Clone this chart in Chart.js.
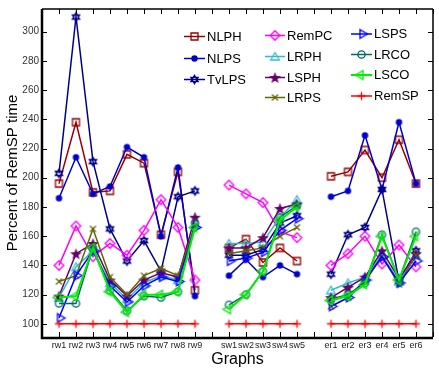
<!DOCTYPE html>
<html>
<head>
<meta charset="utf-8">
<script src="https://cdn.jsdelivr.net/npm/chart.js"></script>
<style>
  html, body { margin: 0; padding: 0; background: #fff; }
  #wrap { width: 439px; height: 369px; }
</style>
</head>
<body>
<div id="wrap"><canvas id="chart"></canvas></div>
<script>
// graph groups, blank slots separate them on the axis
const rwGraphs = ['rw1', 'rw2', 'rw3', 'rw4', 'rw5', 'rw6', 'rw7', 'rw8', 'rw9'];
const swGraphs = ['sw1', 'sw2', 'sw3', 'sw4', 'sw5'];
const erGraphs = ['er1', 'er2', 'er3', 'er4', 'er5', 'er6'];
const yTicks = [100, 120, 140, 160, 180, 200, 220, 240, 260, 280, 300];

// percent of RemSP time, per series: rw1..rw9, sw1..sw5, er1..er6
const NLPH  = [196, 238, 190, 191, 216, 210, 161, 204, 123,  152, 158, 142, 152, 143,  201, 204, 219, 200, 226, 196];
const NLPS  = [186, 214, 189, 194, 221, 214, 160, 207, 119,  133, 144, 132, 140, 134,  187, 191, 229, 192, 238, 196];
const TvLPS = [203, 310, 211, 165, 143, 157, 136, 187, 191,  147, 147, 151, 169, 174,  134, 161, 166, 192, 129, 150];
const RemPC = [140, 167, 146, 155, 147, 164, 185, 166, 130,  195, 189, 183, 163, 159,  140, 148, 160, 141, 154, 139];
const LRPH  = [118, 139, 150, 128, 117, 128, 133, 130, 168,  155, 155, 156, 173, 185,  123, 128, 132, 147, 129, 147];
const LSPH  = [119, 148, 155, 130, 119, 130, 135, 132, 173,  152, 152, 159, 179, 182,  118, 125, 132, 150, 131, 148];
const LRPS  = [129, 133, 165, 132, 120, 133, 138, 133, 167,  148, 150, 152, 160, 166,  112, 118, 129, 146, 127, 147];
const LSPS  = [104, 133, 150, 126, 115, 126, 132, 129, 166,  143, 145, 149, 164, 172,  112, 118, 130, 146, 128, 143];
const LRCO  = [114, 114, 152, 123, 109, 119, 118, 122, 169,  113, 120, 136, 173, 181,  117, 120, 128, 161, 130, 163];
const LSCO  = [118, 119, 152, 122, 108, 120, 120, 122, 166,  110, 120, 136, 171, 180,  116, 119, 127, 160, 130, 160];
const RemSP = [100, 100, 100, 100, 100, 100, 100, 100, 100,  100, 100, 100, 100, 100,  100, 100, 100, 100, 100, 100];

// axis slots: leading blank, groups with a blank between, trailing blank
const labels = ['', ...rwGraphs, '', ...swGraphs, '', ...erGraphs, ''];

function toSlots(vals) {
    const out = [];
    let k = 0;
    labels.forEach(l => { out.push(l === '' ? null : vals[k++]); });
    return out;
}

// --- markers drawn on small canvases (MATLAB-like shapes) ---
function poly(g, cx, cy, r, n, startDeg) {
    for (let i = 0; i < n; i++) {
        const a = (startDeg + i * 360 / n) * Math.PI / 180;
        const x = cx + r * Math.cos(a), y = cy + r * Math.sin(a);
        i === 0 ? g.moveTo(x, y) : g.lineTo(x, y);
    }
    g.closePath();
}

function makeMarker(kind, color) {
    const c = document.createElement('canvas');
    c.width = 15; c.height = 15;
    const g = c.getContext('2d');
    const m = 7.5;
    g.strokeStyle = color; g.fillStyle = color; g.lineWidth = 1.3;
    g.beginPath();
    if (kind === 'square') { g.rect(m - 3.5, m - 3.5, 7, 7); g.stroke(); }
    else if (kind === 'dot') { g.arc(m, m, 3.2, 0, Math.PI * 2); g.fill(); }
    else if (kind === 'hexagram') { poly(g, m, m, 4.2, 3, -90); poly(g, m, m, 4.2, 3, 90); g.stroke(); }
    else if (kind === 'diamond') { poly(g, m, m, 4.8, 4, -90); g.stroke(); }
    else if (kind === 'up') { poly(g, m, m + 1, 5, 3, -90); g.stroke(); }
    else if (kind === 'right') { poly(g, m + 1, m, 5, 3, 0); g.stroke(); }
    else if (kind === 'left') { poly(g, m - 1, m, 5, 3, 180); g.stroke(); }
    else if (kind === 'circle') { g.arc(m, m, 3.6, 0, Math.PI * 2); g.stroke(); }
    else if (kind === 'pentagram') {
        for (let i = 0; i < 10; i++) {
            const r = i % 2 ? 2.6 : 6.2;
            const a = (-90 + i * 36) * Math.PI / 180;
            const x = m + r * Math.cos(a), y = m + 0.6 + r * Math.sin(a);
            i === 0 ? g.moveTo(x, y) : g.lineTo(x, y);
        }
        g.closePath(); g.fill();
    }
    else if (kind === 'x') {
        g.moveTo(m - 3, m - 3); g.lineTo(m + 3, m + 3);
        g.moveTo(m + 3, m - 3); g.lineTo(m - 3, m + 3); g.stroke();
    }
    else if (kind === 'plus') {
        g.moveTo(m - 4, m); g.lineTo(m + 4, m);
        g.moveTo(m, m - 4); g.lineTo(m, m + 4); g.stroke();
    }
    return c;
}

const seriesDefs = [
    { label: 'NLPH',  data: NLPH,  color: '#990000', marker: 'square',    width: 1.5 },
    { label: 'NLPS',  data: NLPS,  color: '#0000cc', marker: 'dot',       width: 1.5 },
    { label: 'TvLPS', data: TvLPS, color: '#000088', marker: 'hexagram',  width: 1.5 },
    { label: 'RemPC', data: RemPC, color: '#ff00ff', marker: 'diamond',   width: 1.5 },
    { label: 'LRPH',  data: LRPH,  color: '#33bbcc', marker: 'up',        width: 1.5 },
    { label: 'LSPH',  data: LSPH,  color: '#660066', marker: 'pentagram', width: 1.5 },
    { label: 'LRPS',  data: LRPS,  color: '#666600', marker: 'x',         width: 1.5 },
    { label: 'LSPS',  data: LSPS,  color: '#0000ff', marker: 'right',     width: 1.5 },
    { label: 'LRCO',  data: LRCO,  color: '#006666', marker: 'circle',    width: 1.5 },
    { label: 'LSCO',  data: LSCO,  color: '#00ee00', marker: 'left',      width: 2 },
    { label: 'RemSP', data: RemSP, color: '#ff0000', marker: 'plus',      width: 1.5 }
];

const datasets = seriesDefs.map((s, i) => {
    const img = makeMarker(s.marker, s.color);
    s.img = img;
    return {
        label: s.label,
        data: toSlots(s.data),
        borderColor: s.color,
        backgroundColor: s.color,
        borderWidth: s.width,
        pointStyle: img,
        pointRadius: 4,
        tension: 0,
        spanGaps: false,
        order: seriesDefs.length - i   // later series on top, like MATLAB
    };
});

// legend layout: [x line start, x line end, text x, y]
const legendPos = {
    NLPH:  [184, 205, 207, 36.5], NLPS:  [184, 205, 207, 58.5], TvLPS: [184, 205, 207, 79.5],
    RemPC: [265, 285, 287, 35.5], LRPH:  [265, 285, 287, 56.5], LSPH:  [265, 285, 287, 77.5], LRPS: [265, 285, 287, 97.5],
    LSPS:  [351, 372, 374, 34],   LRCO:  [351, 372, 374, 54.5], LSCO:  [351, 372, 374, 75],   RemSP: [351, 372, 374, 96]
};

const boxPlugin = {
    id: 'box',
    afterDraw(chart) {
        const { ctx, chartArea: a, scales } = chart;
        ctx.save();
        ctx.strokeStyle = '#000';
        // inward tick marks
        ctx.lineWidth = 1;
        ctx.beginPath();
        labels.forEach((l, i) => {
            const x = Math.round(scales.x.getPixelForValue(i)) + 0.5;
            ctx.moveTo(x, a.top); ctx.lineTo(x, a.top + 5);
            ctx.moveTo(x, a.bottom); ctx.lineTo(x, a.bottom - 5);
        });
        yTicks.forEach(v => {
            const y = Math.round(scales.y.getPixelForValue(v)) + 0.5;
            ctx.moveTo(a.left, y); ctx.lineTo(a.left + 5, y);
            ctx.moveTo(a.right, y); ctx.lineTo(a.right - 5, y);
        });
        ctx.stroke();
        // box
        ctx.lineWidth = 1.5;
        ctx.beginPath();
        ctx.moveTo(a.left, a.top); ctx.lineTo(a.right, a.top);
        ctx.moveTo(a.right, a.top); ctx.lineTo(a.right, a.bottom);
        ctx.stroke();
        ctx.lineWidth = 2.5;
        ctx.beginPath();
        ctx.moveTo(a.left, a.top); ctx.lineTo(a.left, a.bottom + 1);
        ctx.lineTo(a.right, a.bottom + 1);
        ctx.stroke();

        // legend
        ctx.font = '13px "Liberation Sans", Arial, sans-serif';
        ctx.textBaseline = 'middle';
        ctx.fillStyle = '#000';
        seriesDefs.forEach(s => {
            const p = legendPos[s.label];
            ctx.strokeStyle = s.color;
            ctx.lineWidth = s.width;
            ctx.beginPath();
            ctx.moveTo(p[0], p[3]); ctx.lineTo(p[1], p[3]);
            ctx.stroke();
            ctx.drawImage(s.img, (p[0] + p[1]) / 2 - 7.5, p[3] - 7.5);
            ctx.fillText(s.label, p[2], p[3] + 0.5);
        });
        ctx.restore();
    }
};

new Chart(document.getElementById('chart'), {
    type: 'line',
    data: { labels: labels, datasets: datasets },
    options: {
        responsive: true,
        maintainAspectRatio: false,
        animation: false,
        layout: { padding: { top: 4, right: -4, left: 0, bottom: 0 } },
        plugins: { legend: { display: false }, tooltip: { enabled: false } },
        scales: {
            x: {
                type: 'category',
                offset: false,
                grid: { display: false, drawTicks: false },
                border: { display: false },
                ticks: {
                    autoSkip: false, maxRotation: 0, padding: 3,
                    color: '#222', font: { size: 9, family: '"Liberation Sans", Arial, sans-serif' }
                },
                title: {
                    display: true, text: 'Graphs', color: '#000',
                    font: { size: 16, family: '"Liberation Sans", Arial, sans-serif' },
                    padding: { top: 1, bottom: 0 }
                },
                afterFit(scale) { scale.height = 32; }
            },
            y: {
                min: 91, max: 315.5,
                grid: { display: false, drawTicks: false },
                border: { display: false },
                afterBuildTicks(scale) { scale.ticks = yTicks.map(v => ({ value: v })); },
                ticks: {
                    padding: 3, color: '#333',
                    font: { size: 10, family: '"Liberation Sans", Arial, sans-serif' }
                },
                title: {
                    display: true, text: 'Percent of RemSP time', color: '#000',
                    font: { size: 15, family: '"Liberation Sans", Arial, sans-serif' },
                    padding: { top: 4, bottom: 0 }
                },
                afterFit(scale) { scale.width = 42; }
            }
        }
    },
    plugins: [boxPlugin]
});
</script>
</body>
</html>
